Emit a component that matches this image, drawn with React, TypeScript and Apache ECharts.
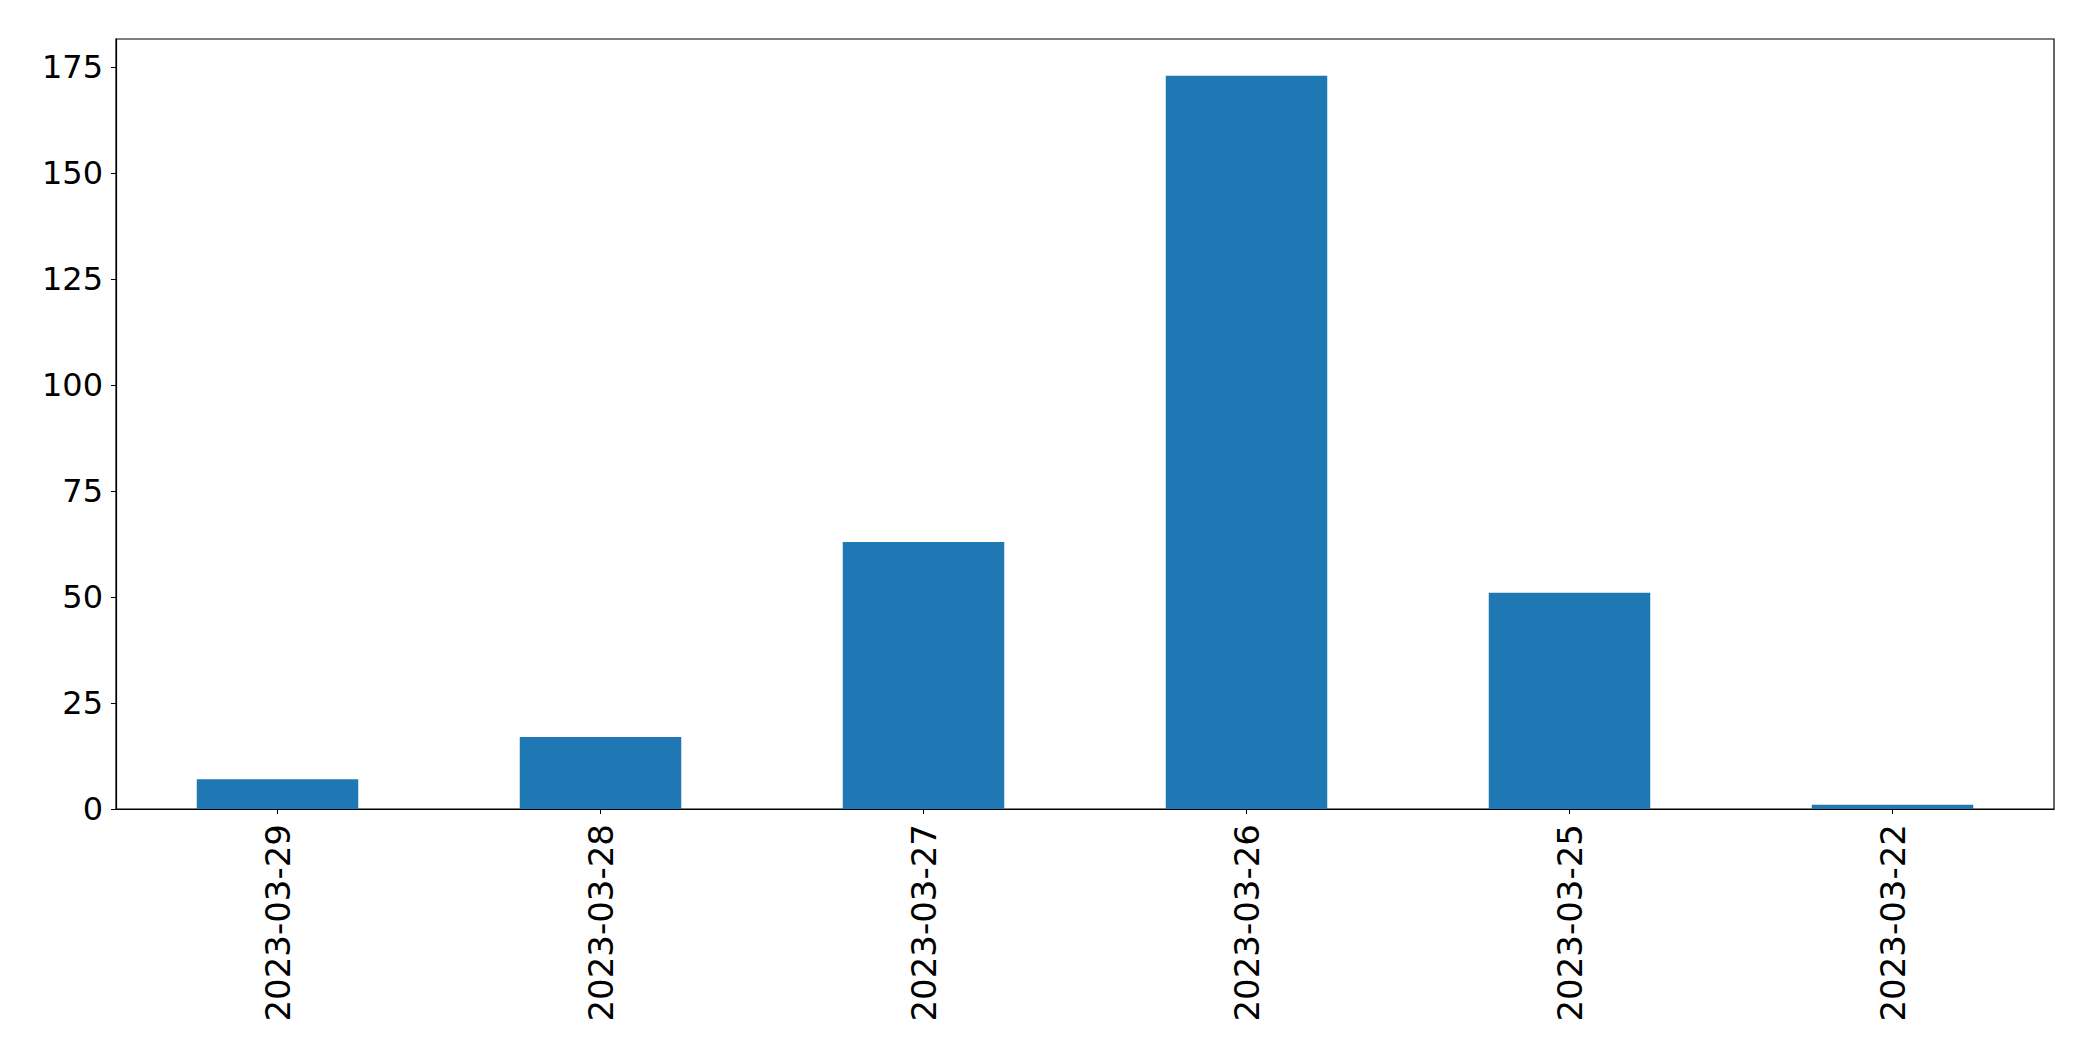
import React, { useEffect, useRef } from "react";
import * as echarts from "echarts";

const categories = ["2023-03-29", "2023-03-28", "2023-03-27", "2023-03-26", "2023-03-25", "2023-03-22"];
const counts = [7, 17, 63, 173, 51, 1];
const yTicks = [0, 25, 50, 75, 100, 125, 150, 175];
const yMax = 181.65;

export default function App() {
  const ref = useRef<HTMLDivElement>(null);
  useEffect(() => {
    if (!ref.current) return;
    const chart = echarts.init(ref.current, null, { renderer: "svg" });
    chart.setOption({
      animation: false,
      backgroundColor: "#ffffff",
      textStyle: { fontFamily: "DejaVu Sans" },
      grid: {
        left: 116,
        top: 39,
        right: 39,
        bottom: 252,
        show: true,
        borderColor: "#000000",
        borderWidth: 1.2,
        backgroundColor: "transparent",
        containLabel: false,
        outerBoundsMode: "none",
      },
      xAxis: {
        type: "category",
        data: categories,
        boundaryGap: true,
        axisLine: { show: true, lineStyle: { color: "#000000", width: 1.2 } },
        axisTick: { show: true, alignWithLabel: true, length: 5, lineStyle: { color: "#000000", width: 1 } },
        axisLabel: {
          rotate: 90,
          fontSize: 34,
          color: "#000000",
          margin: 15,
          fontFamily: "DejaVu Sans",
          interval: 0,
        },
        splitLine: { show: false },
      },
      yAxis: {
        type: "value",
        min: 0,
        max: yMax,
        axisLine: { show: true, lineStyle: { color: "#000000", width: 1.2 } },
        axisTick: { show: true, length: 5, customValues: yTicks, lineStyle: { color: "#000000", width: 1 } },
        axisLabel: {
          fontSize: 32,
          color: "#000000",
          margin: 13,
          fontFamily: "DejaVu Sans",
          customValues: yTicks,
        },
        splitLine: { show: false },
      },
      series: [
        {
          type: "bar",
          data: counts,
          barWidth: "50%",
          itemStyle: { color: "#1f77b4" },
        },
      ],
    });
    return () => chart.dispose();
  }, []);
  return (
    <div
      ref={ref}
      style={{ position: "absolute", left: 0, top: 0, width: 2093, height: 1061 }}
    />
  );
}
